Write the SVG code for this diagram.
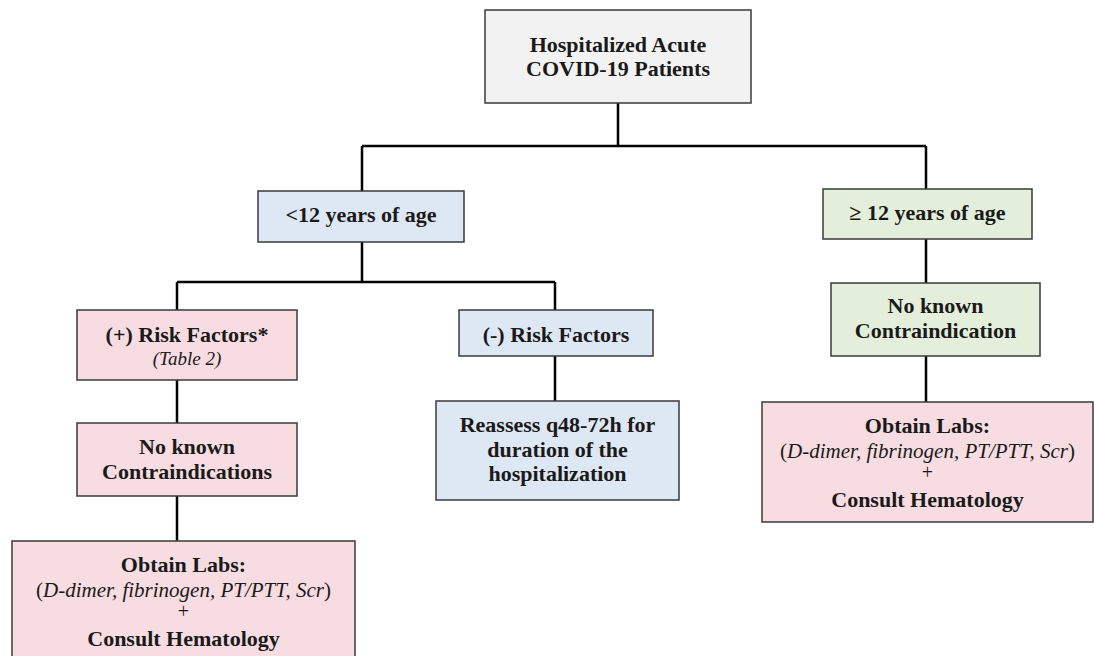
<svg xmlns="http://www.w3.org/2000/svg" width="1094" height="656" viewBox="0 0 1094 656">
<style>
.box{stroke:#3a3a3a;stroke-width:1.5}
.gray{fill:#f2f2f2}
.blue{fill:#dee8f4}
.green{fill:#e3efdb}
.pink{fill:#f7dce1}
.t{font-family:"Liberation Serif","Times New Roman",serif;font-size:22px;font-weight:bold;fill:#1a1a1a;text-anchor:middle}
.it{font-family:"Liberation Serif","Times New Roman",serif;font-size:21px;font-style:italic;font-weight:normal;fill:#1a1a1a;text-anchor:middle}
.sm{font-size:19px}
.n{font-style:normal}
.plus{font-family:"Liberation Serif","Times New Roman",serif;font-size:20px;fill:#1a1a1a;text-anchor:middle}
.c{fill:none;stroke:#000;stroke-width:2.5}
</style>
<rect width="1094" height="656" fill="#fff"/>
<g id="connectors">
<path class="c" d="M618 103V146M362 146H926M362 146V191M926 146V189"/>
<path class="c" d="M362 242V282M177 282H555M177 282V310M555 282V310"/>
<path class="c" d="M177 380V423M177 496V541M555 356V401"/>
<path class="c" d="M926 239V283M926 356V402"/>
</g>
<g id="root">
<rect class="box gray" x="485" y="10" width="266" height="93"/>
<text class="t" x="618" y="52">Hospitalized Acute</text>
<text class="t" x="618" y="76">COVID-19 Patients</text>
</g>
<g id="under12">
<rect class="box blue" x="258" y="191" width="206" height="51"/>
<text class="t" x="361" y="222">&lt;12 years of age</text>
</g>
<g id="over12">
<rect class="box green" x="823" y="189" width="209" height="50"/>
<text class="t" x="927.5" y="220">≥ 12 years of age</text>
</g>
<g id="posrisk">
<rect class="box pink" x="77" y="310" width="220" height="70"/>
<text class="t" x="187" y="342">(+) Risk Factors*</text>
<text class="it sm" x="187" y="365">(Table 2)</text>
</g>
<g id="negrisk">
<rect class="box blue" x="459" y="310" width="194" height="46"/>
<text class="t" x="556" y="342">(-) Risk Factors</text>
</g>
<g id="nocontra-left">
<rect class="box pink" x="77" y="423" width="220" height="73"/>
<text class="t" x="187" y="454">No known</text>
<text class="t" x="187" y="479">Contraindications</text>
</g>
<g id="reassess">
<rect class="box blue" x="436" y="401" width="243" height="99"/>
<text class="t" x="557.5" y="432">Reassess q48-72h for</text>
<text class="t" x="557.5" y="457">duration of the</text>
<text class="t" x="557.5" y="481">hospitalization</text>
</g>
<g id="labs-left">
<rect class="box pink" x="12" y="541" width="343" height="125"/>
<text class="t" x="183.5" y="572">Obtain Labs:</text>
<text class="it" x="183.5" y="597"><tspan class="n">(</tspan>D-dimer, fibrinogen, PT/PTT, Scr<tspan class="n">)</tspan></text>
<text class="plus" x="183.5" y="618">+</text>
<text class="t" x="183.5" y="646">Consult Hematology</text>
</g>
<g id="nocontra-right">
<rect class="box green" x="831" y="283" width="209" height="73"/>
<text class="t" x="935.5" y="313">No known</text>
<text class="t" x="935.5" y="338">Contraindication</text>
</g>
<g id="labs-right">
<rect class="box pink" x="762" y="402" width="331" height="120"/>
<text class="t" x="927.5" y="433">Obtain Labs:</text>
<text class="it" x="927.5" y="458"><tspan class="n">(</tspan>D-dimer, fibrinogen, PT/PTT, Scr<tspan class="n">)</tspan></text>
<text class="plus" x="927.5" y="479">+</text>
<text class="t" x="927.5" y="507">Consult Hematology</text>
</g>
</svg>
